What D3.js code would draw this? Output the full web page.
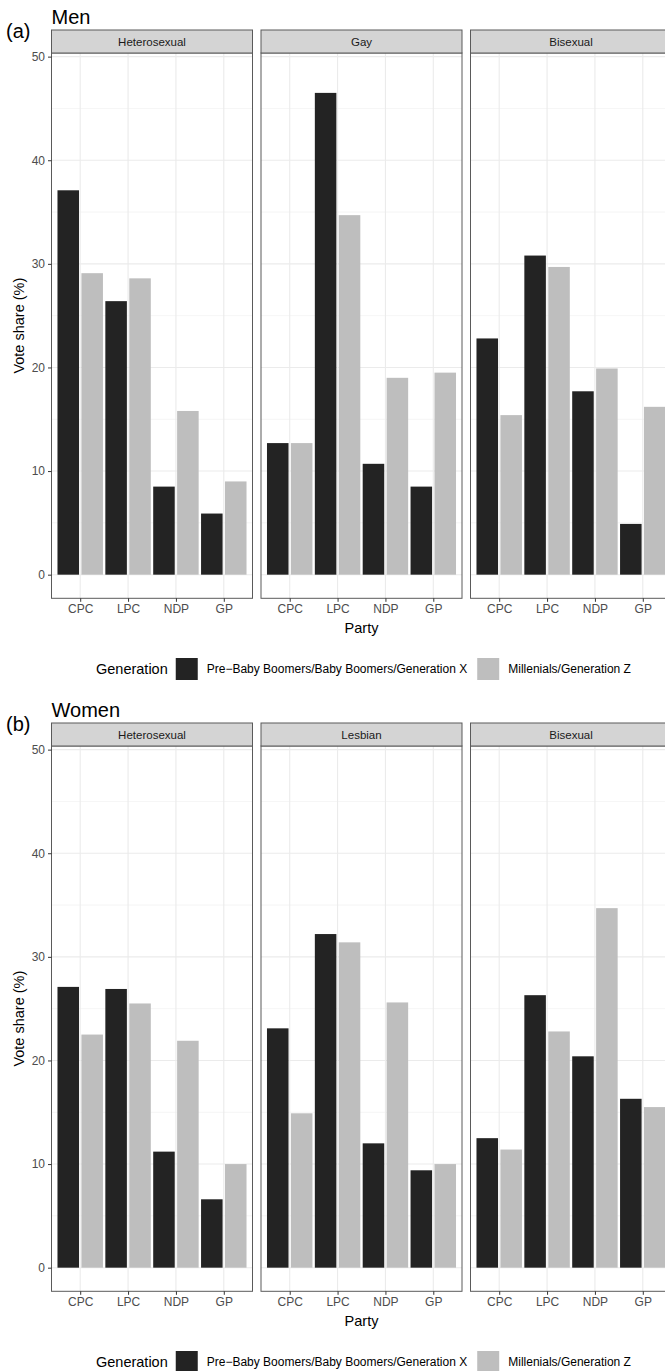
<!DOCTYPE html>
<html>
<head>
<meta charset="utf-8">
<script src="https://cdn.jsdelivr.net/npm/d3@7"></script>
<style>
  html, body { margin: 0; padding: 0; background: #fff; }
  svg { display: block; font-family: "Liberation Sans", Arial, Helvetica, sans-serif; }
</style>
</head>
<body>
<svg id="chart" width="665" height="1371"></svg>
<script>
// ---------- DATA ----------
const parties = ["CPC", "LPC", "NDP", "GP"];
const generations = ["Pre\u2212Baby Boomers/Baby Boomers/Generation X", "Millenials/Generation Z"];
const menGroups = ["Heterosexual", "Gay", "Bisexual"];
const womenGroups = ["Heterosexual", "Lesbian", "Bisexual"];
const yTicks = [0, 10, 20, 30, 40, 50];
const yMinor = [5, 15, 25, 35, 45];

// vote share (%) per group, in party order
const menOlder = [
  [37.1, 26.4, 8.5, 5.9],
  [12.7, 46.5, 10.7, 8.5],
  [22.8, 30.8, 17.7, 4.9]
];
const menYounger = [
  [29.1, 28.6, 15.8, 9.0],
  [12.7, 34.7, 19.0, 19.5],
  [15.4, 29.7, 19.9, 16.2]
];
const womenOlder = [
  [27.1, 26.9, 11.2, 6.6],
  [23.1, 32.2, 12.0, 9.4],
  [12.5, 26.3, 20.4, 16.3]
];
const womenYounger = [
  [22.5, 25.5, 21.9, 10.0],
  [14.9, 31.4, 25.6, 10.0],
  [11.4, 22.8, 34.7, 15.5]
];

// ---------- LAYOUT ----------
const svg = d3.select("#chart");
const fillColors = ["#232323", "#bebebe"];
const panelLeft = 51.5, panelW = 201, panelGap = 8.5;
const stripH = 23;

const x = d3.scalePoint().domain(parties).range([0, panelW]).padding(0.6);
const step = x.step();
const gen = d3.scaleBand().domain(generations).range([-0.5 * step, 0.5 * step]);
const barW = 0.45 * step;

function drawBlock(offsetY, title, tag, groups, older, younger) {
  const g = svg.append("g").attr("transform", `translate(0,${offsetY})`);
  const stripTop = 30, panelTop = stripTop + stripH, panelBottom = 598.3;
  const y = d3.scaleLinear().domain([-2.28, 50.35]).range([panelBottom, panelTop]);

  g.append("text").attr("x", 51.5).attr("y", 23.5).attr("font-size", 20).attr("fill", "#000").text(title);
  g.append("text").attr("x", 6).attr("y", 37.5).attr("font-size", 20).attr("fill", "#000").text(tag);

  groups.forEach((grp, gi) => {
    const px = panelLeft + gi * (panelW + panelGap);
    const p = g.append("g").attr("transform", `translate(${px},0)`);
    p.append("rect").attr("x", 0).attr("y", panelTop).attr("width", panelW)
      .attr("height", panelBottom - panelTop).attr("fill", "#fff");
    p.selectAll(".minor").data(yMinor).join("line")
      .attr("x1", 0).attr("x2", panelW)
      .attr("y1", d => y(d)).attr("y2", d => y(d))
      .attr("stroke", "#f1f1f1").attr("stroke-width", 0.7);
    p.selectAll(".major").data(yTicks).join("line")
      .attr("x1", 0).attr("x2", panelW)
      .attr("y1", d => y(d)).attr("y2", d => y(d))
      .attr("stroke", "#ebebeb").attr("stroke-width", 1.1);
    p.selectAll(".vgrid").data(parties).join("line")
      .attr("x1", d => x(d)).attr("x2", d => x(d))
      .attr("y1", panelTop).attr("y2", panelBottom)
      .attr("stroke", "#ebebeb").attr("stroke-width", 1.1);
    const rows = [];
    parties.forEach((pt, i) => {
      rows.push({party: pt, gen: generations[0], v: older[gi][i]});
      rows.push({party: pt, gen: generations[1], v: younger[gi][i]});
    });
    p.selectAll(".bar").data(rows).join("rect")
      .attr("x", d => x(d.party) + gen(d.gen) + (gen.bandwidth() - barW) / 2)
      .attr("width", barW)
      .attr("y", d => y(d.v))
      .attr("height", d => y(0) - y(d.v))
      .attr("fill", d => fillColors[generations.indexOf(d.gen)]);
    p.append("rect").attr("x", 0).attr("y", panelTop).attr("width", panelW)
      .attr("height", panelBottom - panelTop).attr("fill", "none")
      .attr("stroke", "#5a5a5a").attr("stroke-width", 1);
    p.append("rect").attr("x", 0).attr("y", stripTop).attr("width", panelW)
      .attr("height", stripH).attr("fill", "#d4d4d4")
      .attr("stroke", "#5a5a5a").attr("stroke-width", 1);
    p.append("text").attr("x", panelW / 2).attr("y", stripTop + stripH / 2 + 4)
      .attr("text-anchor", "middle").attr("font-size", 11.5).attr("fill", "#1a1a1a").text(grp);
    const xa = p.append("g").attr("transform", `translate(0,${panelBottom})`)
      .call(d3.axisBottom(x).tickSize(3.5).tickPadding(2.5));
    xa.select(".domain").remove();
    xa.selectAll(".tick line").attr("stroke", "#333");
    xa.selectAll(".tick text").attr("font-size", 12).attr("fill", "#4d4d4d")
      .attr("font-family", "Liberation Sans, Arial, sans-serif");
  });

  const ya = g.append("g").attr("transform", `translate(${panelLeft},0)`)
    .call(d3.axisLeft(y).tickValues(yTicks).tickSize(3.5).tickPadding(3));
  ya.select(".domain").remove();
  ya.selectAll(".tick line").attr("stroke", "#333");
  ya.selectAll(".tick text").attr("font-size", 12).attr("fill", "#4d4d4d")
    .attr("font-family", "Liberation Sans, Arial, sans-serif");

  const totalRight = panelLeft + 3 * panelW + 2 * panelGap;
  g.append("text").attr("x", (panelLeft + totalRight) / 2).attr("y", 633)
    .attr("text-anchor", "middle").attr("font-size", 14.5).attr("fill", "#000").text("Party");
  g.append("text").attr("transform", `translate(24,${(panelTop + panelBottom) / 2}) rotate(-90)`)
    .attr("text-anchor", "middle").attr("font-size", 14.5).attr("fill", "#000").text("Vote share (%)");

  const lg = g.append("g").attr("transform", "translate(0,669)");
  const lt = lg.append("text").attr("x", 96).attr("y", 5).attr("font-size", 14.5)
    .attr("fill", "#000").text("Generation");
  let cx = 96 + lt.node().getComputedTextLength() + 8;
  generations.forEach((gname, i) => {
    lg.append("rect").attr("x", cx).attr("y", -11).attr("width", 22).attr("height", 22)
      .attr("fill", fillColors[i]);
    cx += 22 + 9;
    const t = lg.append("text").attr("x", cx).attr("y", 4.2).attr("font-size", 12)
      .attr("fill", "#000").text(gname);
    cx += t.node().getComputedTextLength() + 10;
  });
}

drawBlock(0, "Men", "(a)", menGroups, menOlder, menYounger);
drawBlock(693, "Women", "(b)", womenGroups, womenOlder, womenYounger);
</script>
</body>
</html>
